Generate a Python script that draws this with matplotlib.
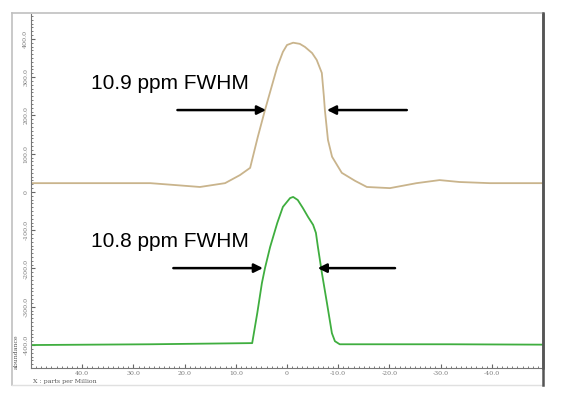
import numpy as np
from matplotlib import pyplot as plt
from matplotlib.ticker import MultipleLocator, FixedLocator
from matplotlib.lines import Line2D

# chemical shift (ppm) / abundance
beige_x = [50, 36.5, 26.7, 21.8, 17.0, 12.1, 9.2, 7.2, 5.7, 4.3, 2.9, 1.9, 0.8, 0.0,
           -1.2, -2.5, -3.5, -4.9, -5.8, -6.8, -7.2, -7.4, -8.0, -8.8, -10.7, -13.3,
           -15.6, -20.1, -25.3, -29.8, -33.7, -39.6, -50]
beige_y = [23, 23, 23, 18, 13, 23, 44, 63, 144, 214, 280, 327, 366, 384,
           390, 387, 379, 363, 345, 311, 250, 214, 136, 92, 50, 29,
           13, 10, 23, 31, 26, 23, 23]

green_x = [50, 26.7, 7.2, 6.8, 5.8, 4.9, 4.3, 3.3, 1.9, 0.8, -0.6, -1.2, -2.1, -3.1,
           -4.1, -5.1, -5.65, -6.04, -6.82, -7.8, -8.77, -9.36, -10.3, -31.8, -50]
green_y = [-400, -398, -395, -395, -316, -238, -199, -144, -81, -39, -16, -13, -21, -42,
           -65, -86, -107, -144, -212, -290, -369, -390, -398, -398, -399]

x_ticks = [40, 30, 20, 10, 0, -10, -20, -30, -40]
y_ticks = [-400, -300, -200, -100, 0, 100, 200, 300, 400]

labels = ["10.9 ppm FWHM", "10.8 ppm FWHM"]


def fmt(v):
    return "0" if v == 0 else "%.1f" % v


fig = plt.figure(figsize=(5.7, 3.96), dpi=100)
ax = fig.add_axes([31 / 570, 1 - 368 / 396, 512 / 570, 354 / 396])

ax.plot(beige_x, beige_y, color='#c9b48c', lw=1.3)
ax.plot(green_x, green_y, color='#3fae3f', lw=1.3)

ax.set_xlim(50, -50)
ax.set_ylim(-460, 465)

ax.xaxis.set_major_locator(FixedLocator(x_ticks))
ax.yaxis.set_major_locator(FixedLocator(y_ticks))
ax.xaxis.set_minor_locator(MultipleLocator(1))
ax.yaxis.set_minor_locator(MultipleLocator(10))
ax.set_xticklabels([fmt(v) for v in x_ticks])
ax.set_yticklabels([fmt(v) for v in y_ticks], rotation=90, va='center')

ax.tick_params(which='both', direction='in', colors='#666666', labelsize=4.5,
               labelcolor='#777777')
ax.tick_params(which='major', length=3, width=0.8, pad=2)
ax.tick_params(which='minor', length=1.5, width=0.6)
for lab in ax.get_xticklabels() + ax.get_yticklabels():
    lab.set_family('DejaVu Serif')

ax.spines['top'].set_visible(False)
ax.spines['left'].set_color('#777777')
ax.spines['bottom'].set_color('#777777')
ax.spines['right'].set_color('#555555')
ax.spines['right'].set_linewidth(1.8)

# FWHM arrows and labels
arrow = dict(arrowstyle='-|>', lw=1.8, color='black', mutation_scale=13,
             shrinkA=0, shrinkB=0)
ax.annotate('', xy=(4.1, 214), xytext=(21.4, 214), arrowprops=arrow)
ax.annotate('', xy=(-7.8, 214), xytext=(-23.4, 214), arrowprops=arrow)
ax.annotate('', xy=(4.7, -199), xytext=(22.2, -199), arrowprops=arrow)
ax.annotate('', xy=(-6.0, -199), xytext=(-21.1, -199), arrowprops=arrow)
ax.text(38.2, 269, labels[0], fontsize=15, family='Liberation Sans', va='baseline')
ax.text(38.2, -144, labels[1], fontsize=15, family='Liberation Sans', va='baseline')

# outer frame of the screenshot
fx0, fx1 = 12 / 570, 543 / 570
fy0, fy1 = 1 - 385 / 396, 1 - 13 / 396
fig.add_artist(Line2D([fx0, fx0], [fy0, fy1], color='#c0c0c0', lw=1.2))
fig.add_artist(Line2D([fx0, fx1], [fy1, fy1], color='#c0c0c0', lw=1.2))
fig.add_artist(Line2D([fx0, fx1], [fy0, fy0], color='#e0e0e0', lw=1.0))
fig.add_artist(Line2D([fx1, fx1], [fy0, fy1], color='#555555', lw=1.8))

fig.text(33 / 570, 1 - 381 / 396, "X : parts per Million", fontsize=4.5,
         family='DejaVu Serif', color='#555555', va='center')
fig.text(16 / 570, 1 - 352 / 396, "abundance", fontsize=4.5, rotation=90,
         family='DejaVu Serif', color='#555555', ha='center', va='center')

fig.savefig('out.png', dpi=100)
